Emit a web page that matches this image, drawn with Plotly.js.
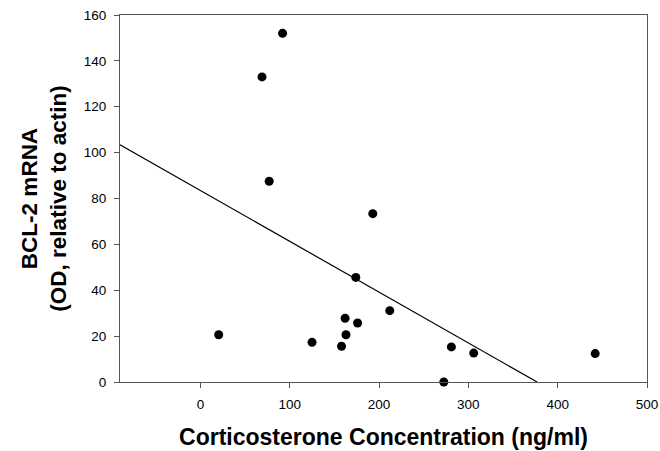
<!DOCTYPE html>
<html>
<head>
<meta charset="utf-8">
<script src="https://cdn.plot.ly/plotly-3.0.1.min.js"></script>
<style>html,body{margin:0;padding:0;background:#fff;}#chart{width:660px;height:451px;}</style>
</head>
<body>
<div id="chart"></div>
<script>
// Corticosterone concentration (ng/ml)
const cortX = [92, 69, 77, 193, 174, 212, 162, 163, 158, 176, 125, 20.5, 281, 306, 272.5, 442];
// BCL-2 mRNA (OD, relative to actin)
const bclY = [152, 133, 87.5, 73.4, 45.6, 31.1, 27.8, 20.6, 15.6, 25.7, 17.3, 20.6, 15.3, 12.6, 0, 12.4];
// regression line endpoints
const fitX = [-90, 377];
const fitY = [103.4, 0];
const xTicks = [0, 100, 200, 300, 400, 500];
const yTicks = [0, 20, 40, 60, 80, 100, 120, 140, 160];

const font = "Liberation Sans, Arial, sans-serif";

const traces = [
  {x: fitX, y: fitY, mode: 'lines', type: 'scatter', line: {color: '#000', width: 1.2}, hoverinfo: 'skip', showlegend: false},
  {x: cortX, y: bclY, mode: 'markers', type: 'scatter', marker: {color: '#000', size: 9}, cliponaxis: false, showlegend: false}
];

const layout = {
  width: 660, height: 451,
  margin: {l: 120, r: 13, t: 15, b: 69},
  paper_bgcolor: '#fff', plot_bgcolor: '#fff',
  font: {family: font, color: '#000', size: 13.5},
  showlegend: false,
  xaxis: {
    range: [-90, 500], tickvals: xTicks, ticks: 'outside', ticklen: 5, tickwidth: 1, tickcolor: '#555',
    showline: true, linecolor: '#555', linewidth: 1, mirror: true, showgrid: false, zeroline: false,
    ticklabelstandoff: 5,
    tickfont: {family: font, size: 13.5, color: '#000'},
    title: {text: 'Corticosterone Concentration (ng/ml)', font: {family: font, size: 23, color: '#000', weight: 'bold'}, standoff: 17}
  },
  yaxis: {
    range: [0, 160], tickvals: yTicks, ticks: 'outside', ticklen: 5, tickwidth: 1, tickcolor: '#555',
    showline: true, linecolor: '#555', linewidth: 1, mirror: true, showgrid: false, zeroline: false,
    ticklabelstandoff: 5,
    tickfont: {family: font, size: 13.5, color: '#000'},
    title: {text: 'BCL-2 mRNA<br>(OD, relative to actin)', font: {family: font, size: 22.5, color: '#000', weight: 'bold'}, standoff: 10}
  }
};

Plotly.newPlot('chart', traces, layout, {staticPlot: true, displayModeBar: false});
</script>
</body>
</html>
